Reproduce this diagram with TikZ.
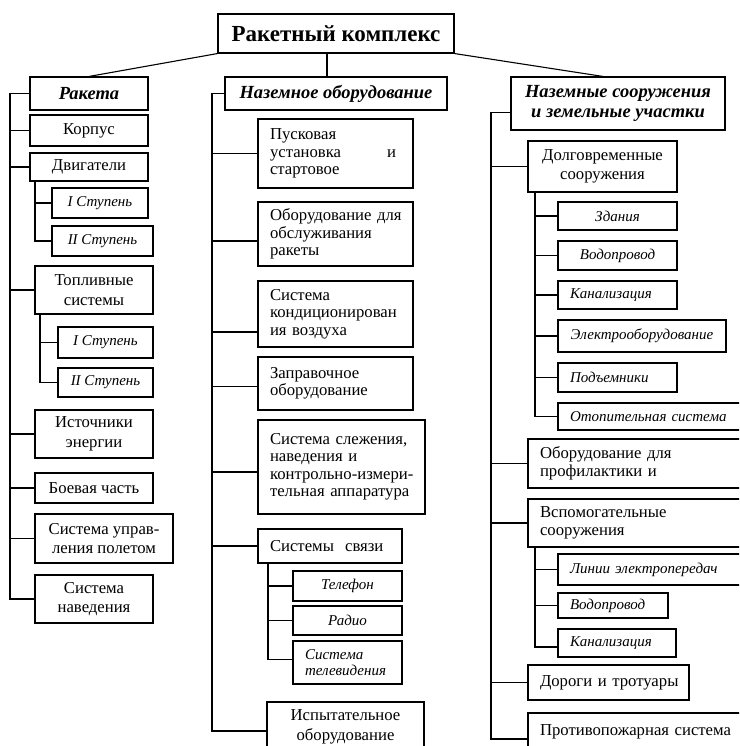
\documentclass[tikz,border=0pt]{standalone}
\usepackage{fontspec}
\setmainfont{Liberation Serif}
\begin{document}
\begin{tikzpicture}[x=1pt,y=-1pt,
  ln/.style={line width=1.1pt},
  box/.style={draw, line width=1.1pt, inner sep=3pt, font=\fontsize{16.7}{17.5}\selectfont},
  c/.style={align=center, font=\fontsize{16.7}{19.5}\selectfont},
  l/.style={align=left, text width={\bxw pt-6pt},
    execute at begin node={\leftskip=9pt\rightskip=-24pt plus 1fil}},
  it/.style={align=center, font=\itshape\fontsize{15}{16}\selectfont},
  itl/.style={l, font=\itshape\fontsize{15}{16}\selectfont},
  hd/.style={align=center, font=\bfseries\itshape\fontsize{18.5}{20}\selectfont},
  ttl/.style={align=center, font=\bfseries\fontsize{23}{25}\selectfont}]
\newcommand\bx[7]{%
  \pgfmathsetmacro\bxw{#4-#2}\pgfmathsetmacro\bxh{#5-#3}%
  \pgfmathsetmacro\bxcx{(#2+#4)/2}\pgfmathsetmacro\bxcy{(#3+#5)/2}%
  \node[box,#6,minimum width=\bxw pt,minimum height=\bxh pt] (#1) at (\bxcx,\bxcy) {#7};}
\useasboundingbox (0,0) rectangle (739,746);
\clip (0,0) rectangle (739,746);
% title
\bx{title}{218}{14}{454}{53}{ttl}{Ракетный комплекс}
% left column
\bx{raketa}{30}{77}{148}{110}{hd}{Ракета}
\bx{korpus}{30}{115}{148}{146}{c}{Корпус}
\bx{dvig}{30}{153}{148}{181}{c}{Двигатели}
\bx{st1}{52}{188}{148}{218}{it}{I Ступень}
\bx{st2}{52}{226}{153}{256}{it}{II Ступень}
\bx{topl}{35}{266}{153}{314}{c}{Топливные\\системы}
\bx{ts1}{58}{327}{153}{358}{it}{I Ступень}
\bx{ts2}{58}{368}{153}{397}{it}{II Ступень}
\bx{ist}{35}{410}{153}{458}{c}{Источники\\энергии}
\bx{boev}{35}{473}{153}{503}{c}{Боевая часть}
\bx{upr}{35}{514}{173}{563}{c}{Система управ-\\ления полетом}
\bx{naved}{35}{575}{153}{623}{c}{Система\\наведения}
% middle column
\bx{nazob}{225}{77}{447}{110}{hd}{Наземное оборудование}
\bx{pusk}{258}{119}{413}{188}{l}{Пусковая\\установка\hspace{46pt}и\\стартовое}
\bx{obsl}{258}{202}{413}{266}{l}{Оборудование для\\обслуживания\\ракеты}
\bx{kond}{258}{281}{413}{347}{l}{Система\\кондиционирован\\ия воздуха}
\bx{zapr}{258}{357}{413}{410}{l}{Заправочное\\оборудование}
\bx{slez}{258}{420}{425}{514}{l}{Система слежения,\\наведения и\\контрольно-измери-\\тельная аппаратура}
\bx{svyaz}{258}{529}{402}{563}{l}{Системы\ \ связи}
\bx{tel}{293}{571}{402}{601}{it}{Телефон}
\bx{radio}{293}{606}{402}{635}{it}{Радио}
\bx{tv}{293}{641}{402}{684}{itl}{Система\\телевидения}
\bx{isp}{267}{702}{424}{752}{c}{Испытательное\\оборудование}
% right column
\bx{nsz}{511}{77}{725}{130}{hd}{Наземные сооружения\\и земельные участки}
\bx{dolg}{528}{141}{677}{192}{c}{Долговременные\\сооружения}
\bx{zd}{558}{202}{677}{230}{it}{Здания}
\bx{vodA}{558}{241}{677}{270}{it}{Водопровод}
\bx{kanA}{558}{281}{677}{309}{itl}{Канализация}
\bx{el}{558}{320}{726}{352}{it}{Электрооборудование}
\bx{pod}{558}{363}{677}{392}{itl}{Подъемники}
\bx{otop}{558}{403}{750}{430}{itl}{Отопительная система}
\bx{prof}{528}{439}{750}{488}{l}{Оборудование для\\профилактики и}
\bx{vsp}{528}{499}{750}{547}{l}{Вспомогательные\\сооружения}
\bx{lin}{558}{554}{750}{585}{itl}{Линии электропередач}
\bx{vodB}{558}{593}{668}{618}{itl}{Водопровод}
\bx{kanB}{558}{629}{676}{657}{itl}{Канализация}
\bx{dor}{528}{665}{689}{700}{l}{Дороги и тротуары}
\bx{pozh}{528}{713}{750}{751}{l}{Противопожарная система}
% top connectors
\draw[ln] (title.south west) -- (raketa.north);
\draw[ln] ([xshift=-9pt]title.south) -- ([xshift=-9pt]title.south |- nazob.north);
\draw[ln] (title.south east) -- ([xshift=-15pt]nsz.north);
% left trunk
\coordinate (L) at (10,0);
\coordinate (D) at (35,0);
\coordinate (T) at (40,0);
\draw[ln] (raketa.west) -- (raketa.west -| L) |- (naved.west);
\foreach \n in {korpus,dvig,topl,ist,boev,upr} \draw[ln] (\n.west) -- (\n.west -| L);
\draw[ln] (dvig.south -| D) |- (st2.west);
\draw[ln] (st1.west) -- (st1.west -| D);
\draw[ln] (topl.south -| T) |- (ts2.west);
\draw[ln] (ts1.west) -- (ts1.west -| T);
% middle trunk
\coordinate (M) at (212,0);
\coordinate (S) at (268,0);
\draw[ln] (nazob.west) -- (nazob.west -| M) |- ([yshift=-4pt]isp.west);
\draw[ln] (pusk.west) -- (pusk.west -| M);
\draw[ln] ([yshift=-7pt]obsl.west) -- ([yshift=-7pt]obsl.west -| M);
\draw[ln] ([yshift=-18pt]kond.west) -- ([yshift=-18pt]kond.west -| M);
\draw[ln] ([yshift=-3pt]zapr.west) -- ([yshift=-3pt]zapr.west -| M);
\draw[ln] ([yshift=-5pt]slez.west) -- ([yshift=-5pt]slez.west -| M);
\draw[ln] (svyaz.west) -- (svyaz.west -| M);
\draw[ln] (svyaz.south -| S) |- ([yshift=3pt]tv.west);
\draw[ln] (tel.west) -- (tel.west -| S);
\draw[ln] (radio.west) -- (radio.west -| S);
% right trunk
\coordinate (R) at (491,0);
\coordinate (G) at (535,0);
\draw[ln] ([yshift=-9pt]nsz.west) -- ([yshift=-9pt]nsz.west -| R) |- ([yshift=-7pt]pozh.west);
\foreach \n in {dolg,prof,vsp,dor} \draw[ln] (\n.west) -- (\n.west -| R);
\draw[ln] (dolg.south -| G) |- (otop.west);
\foreach \n in {zd,vodA,kanA,el,pod} \draw[ln] (\n.west) -- (\n.west -| G);
\draw[ln] (vsp.south -| G) |- ([yshift=-4pt]kanB.west);
\foreach \n in {lin,vodB} \draw[ln] (\n.west) -- (\n.west -| G);
\end{tikzpicture}
\end{document}
